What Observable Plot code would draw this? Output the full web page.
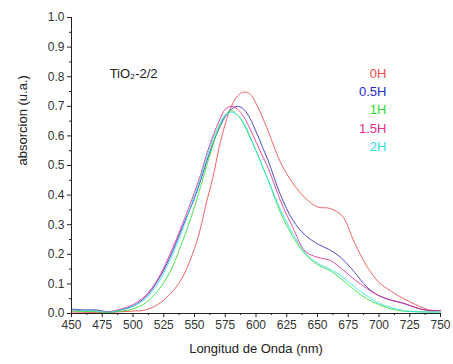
<!DOCTYPE html>
<html>
<head>
<meta charset="utf-8">
<script src="https://cdn.jsdelivr.net/npm/d3@7"></script>
<script src="https://cdn.jsdelivr.net/npm/@observablehq/plot@0.6"></script>
<style>
  html, body { margin: 0; padding: 0; background: #fff; }
</style>
</head>
<body>
<div id="chart"></div>
<script>
const wavelengths = [450,460,470,480,490,500,510,520,530,540,550,555,560,565,570,575,580,585,590,595,600,605,610,620,630,640,650,660,670,680,690,700,710,720,730,740,750];
const s0H  = [.005,.004,.003,.003,.006,.008,.012,.03,.065,.12,.22,.29,.38,.46,.56,.64,.70,.735,.748,.742,.71,.665,.615,.51,.44,.39,.36,.355,.33,.24,.16,.105,.075,.05,.03,.013,.01];
const s05H = [.015,.012,.012,.006,.012,.025,.055,.11,.19,.29,.39,.45,.515,.575,.625,.665,.69,.70,.69,.66,.615,.565,.515,.40,.315,.265,.235,.215,.185,.14,.09,.06,.045,.034,.02,.01,.01];
const s1H  = [.008,.007,.006,.004,.008,.015,.035,.075,.14,.24,.36,.43,.50,.57,.63,.67,.685,.67,.64,.595,.55,.50,.45,.34,.26,.20,.165,.145,.115,.08,.05,.03,.015,.008,.006,.005,.005];
const s15H = [.012,.01,.01,.006,.015,.03,.06,.115,.20,.30,.41,.47,.54,.60,.65,.69,.70,.69,.665,.625,.58,.535,.49,.38,.29,.21,.19,.18,.15,.115,.085,.06,.045,.035,.02,.01,.01];
const s2H  = [.012,.01,.009,.005,.012,.025,.05,.10,.18,.28,.40,.46,.53,.59,.635,.67,.68,.67,.645,.60,.55,.50,.45,.35,.27,.205,.17,.15,.125,.09,.06,.035,.02,.01,.006,.005,.005];
const seriesNames = ["0H","0.5H","1H","1.5H","2H"];
const seriesColors = ["#f04848","#2a2ac8","#2ede2e","#e62e8a","#2ee0e0"];
const xTicks = [450,475,500,525,550,575,600,625,650,675,700,725,750];
const yTicks = [0,0.1,0.2,0.3,0.4,0.5,0.6,0.7,0.8,0.9,1.0];

const allSeries = [s0H, s05H, s1H, s15H, s2H];
const data = [];
allSeries.forEach((vals, i) => {
  vals.forEach((v, j) => data.push({wl: wavelengths[j], a: v, s: seriesNames[i]}));
});
const xMinor = d3.range(462.5, 750, 25);
const yMinor = d3.range(0.05, 1.0, 0.1);
const legendRows = seriesNames.map((n, i) => ({name: n, x: 706, y: 0.811 - i * 0.062, c: seriesColors[i]}));

const chart = Plot.plot({
  width: 453,
  height: 364,
  marginLeft: 71,
  marginRight: 13,
  marginTop: 17,
  marginBottom: 51,
  style: {fontFamily: "'Liberation Sans', Arial, sans-serif", fontSize: "12px", color: "#333", background: "#fff"},
  x: {domain: [450, 750]},
  y: {domain: [0, 1.0]},
  color: {domain: seriesNames, range: seriesColors},
  marks: [
    Plot.line(data, {x: "wl", y: "a", z: "s", stroke: "s", strokeWidth: 0.85, curve: "catmull-rom"}),
    Plot.axisY({ticks: yTicks, tickFormat: d => d.toFixed(1), tickSize: 4, tickPadding: 3, label: null, stroke: "#222", fontSize: 12}),
    Plot.axisY({ticks: yMinor, tickFormat: () => "", tickSize: 2, label: null, stroke: "#222"}),
    Plot.axisX({ticks: xTicks, tickFormat: d => String(d), tickSize: 4, tickPadding: 3, label: null, stroke: "#222", fontSize: 12}),
    Plot.axisX({ticks: xMinor, tickFormat: () => "", tickSize: 2, label: null, stroke: "#222"}),
    Plot.ruleX([450], {stroke: "#222", strokeWidth: 1}),
    Plot.ruleY([0], {stroke: "#222", strokeWidth: 1}),
    Plot.text(["absorcion (u.a.)"], {frameAnchor: "left", dx: -49, rotate: -90, fontSize: 13, fill: "#222"}),
    Plot.text(["Longitud de Onda (nm)"], {frameAnchor: "bottom", dy: 39, fontSize: 13, fill: "#222"}),
    Plot.text(["TiO₂-2/2"], {x: () => 481, y: () => 0.811, textAnchor: "start", fontSize: 13, fill: "#222"}),
    Plot.text(legendRows, {x: "x", y: "y", text: "name", fill: "c", textAnchor: "end", fontSize: 13})
  ]
});
document.getElementById("chart").appendChild(chart);
</script>
</body>
</html>
